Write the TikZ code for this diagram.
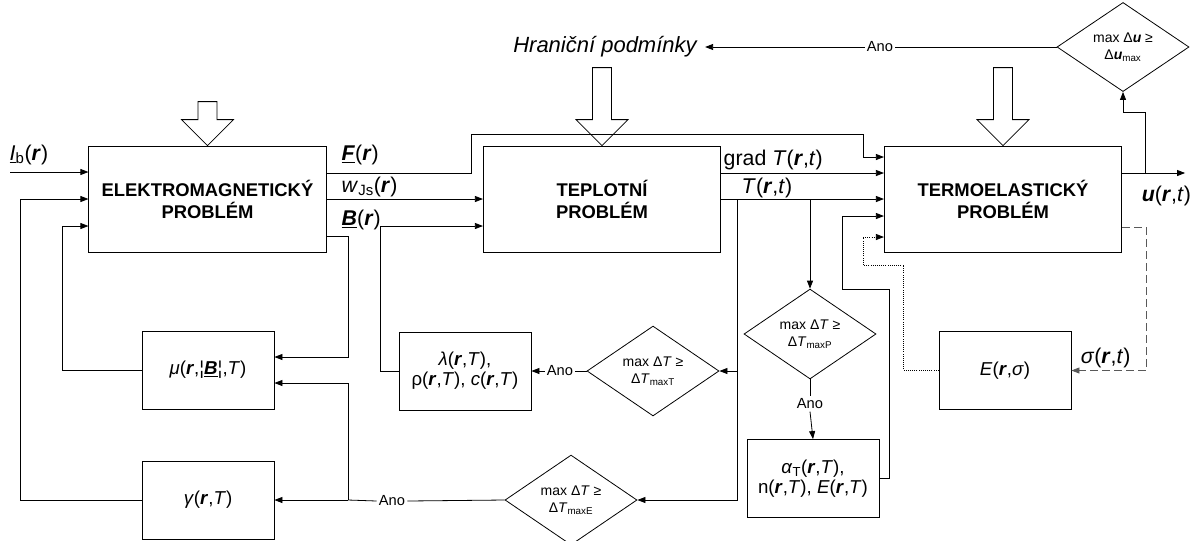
\documentclass[tikz,border=0pt]{standalone}
\usepackage{fontspec}
\setmainfont{Liberation Sans}
\usetikzlibrary{arrows.meta,calc,shapes.geometric}

\newcommand{\vecr}{\textbf{\textit{r}}}
\newcommand{\vecu}{\textbf{\textit{u}}}
\newcommand{\ulB}{\underline{\textbf{\textit{B}}}}
\newcommand{\ulF}{\underline{\textbf{\textit{F}}}}

\tikzset{
  blok/.style={draw, align=center, inner sep=0pt, minimum width=99pt, minimum height=58.5pt, font=\fontsize{14}{15}\selectfont},
  bigblok/.style={blok, minimum width=178pt, minimum height=79.5pt, font=\bfseries\fontsize{13.8}{16.5}\selectfont},
  decide/.style={draw, diamond, align=center, inner sep=0pt, minimum width=99pt, minimum height=58.5pt, font=\fontsize{10.5}{13}\selectfont},
  lab/.style={inner sep=1pt, font=\fontsize{16}{18}\selectfont},
  ano/.style={inner sep=1.5pt, font=\fontsize{11}{13}\selectfont},
  arr/.style={-{Triangle[length=6pt,width=4.5pt]}},
  hollow/.style={fill=white, line join=miter},
}

\begin{document}
\begin{tikzpicture}[x=0.75pt, y=-0.75pt, line width=0.6pt]
    \useasboundingbox (0,0) rectangle (1194,540);

    % main blocks
    \node[bigblok] (em)  at (207.5,199) {ELEKTROMAGNETICKÝ\\PROBLÉM};
    \node[bigblok] (tep) at (602,199)   {TEPLOTNÍ\\PROBLÉM};
    \node[bigblok] (ter) at (1003,199)  {TERMOELASTICKÝ\\PROBLÉM};

    % material blocks
    \node[blok] (mu)   at (208,370)  {\textit{μ}(\vecr,¦\ulB¦,\textit{T})};
    \node[blok] (gam)  at (208,500)  {\textit{γ}(\vecr,\textit{T})};
    \node[blok] (lam)  at (465,371)  {\textit{λ}(\vecr,\textit{T}),\\ρ(\vecr,\textit{T}), \textit{c}(\vecr,\textit{T})};
    \node[blok] (alp)  at (813,478.5) {\textit{α}\textsubscript{T}(\vecr,\textit{T}),\\n(\vecr,\textit{T}), \textit{E}(\vecr,\textit{T})};
    \node[blok] (emod) at (1005,370.5) {\textit{E}(\vecr,\textit{σ})};

    % conditions
    \node[decide, minimum height=60pt] (du) at (1123,47) {max Δ\vecu{} ≥\\Δ\vecu\textsubscript{max}};
    \node[decide] (dT) at (653,371) {max Δ\textit{T} ≥\\Δ\textit{T}\textsubscript{maxT}};
    \node[decide] (dP) at (810,334) {max Δ\textit{T} ≥\\Δ\textit{T}\textsubscript{maxP}};
    \node[decide] (dE) at (571,500) {max Δ\textit{T} ≥\\Δ\textit{T}\textsubscript{maxE}};

    % Ano labels
    \node[ano] (anoU) at (880,47)  {Ano};
    \node[ano] (anoT) at (560,371) {Ano};
    \node[ano] (anoP) at (810,404) {Ano};
    \node[ano] (anoE) at (392,501) {Ano};

    % signal labels
    \node[lab, inner sep=6pt, font=\itshape\fontsize{16.5}{18}\selectfont] (hran) at (605,47) {Hraniční podmínky};
    \node[lab, anchor=west] (lIb)  at (8,155)    {\underline{\textit{I}}\textsubscript{b}(\vecr)};
    \node[lab, anchor=west] (lF)   at (340,155)  {\ulF(\vecr)};
    \node[lab, anchor=west] (lw)   at (340,187)  {\textit{w}\textsubscript{Js}(\vecr)};
    \node[lab, anchor=west] (lB)   at (340,220)  {\ulB(\vecr)};
    \node[lab, anchor=west] (lgr)  at (722,160)  {grad \textit{T}(\vecr,\textit{t})};
    \node[lab, anchor=west] (lT)   at (740,188)  {\textit{T}(\vecr,\textit{t})};
    \node[lab, anchor=west] (lu)   at (1140,196) {\vecu(\vecr,\textit{t})};
    \node[lab, anchor=west] (lsig) at (1079,358) {\textit{σ}(\vecr,\textit{t})};

    % hollow input arrows
    \foreach \b/\len in {em/44, tep/78, ter/78}
        \draw[hollow] ($(\b.north)+(-9.5,-\len)$) -- ++(19,0) -- ++(0,\len-26) -- ++(16.5,0)
            -- (\b.north) -- ++(-26,-26) -- ++(16.5,0) -- cycle;

    % inputs of the EM block
    \coordinate (ibin) at (10,172);
    \draw[arr] (ibin) -- ($(em.west)+(0,-27)$);
    \draw[arr] (gam.west) -- ++(-121,0) |- (em.west);
    \draw[arr] (mu.west) -- ++(-79,0) |- ($(em.west)+(0,27)$);

    % EM -> thermal / elastic
    \draw[arr] ($(em.east)+(0,-26)$) -- (471,173) |- (863,134) |- ($(ter.west)+(0,-42)$);
    \draw[arr] (em.east) -- (tep.west);
    \draw[arr] (lam.west) -- ++(-18,0) |- ($(tep.west)+(0,27)$);
    \draw[arr] ($(em.east)+(0,37)$) -- (348,236) |- ($(mu.east)+(0,-13)$);

    % E branch
    \coordinate (jE) at (348,500);
    \draw (dE.west) -- (anoE.east);
    \draw (anoE.west) -- (jE);
    \draw[arr] (jE) -- (gam.east);
    \draw[arr] (jE) |- ($(mu.east)+(0,13)$);

    % thermal -> elastic
    \draw[arr] ($(tep.east)+(0,-26)$) -- ($(ter.west)+(0,-26)$);
    \draw[arr] (tep.east) -- (ter.west);
    \coordinate (jT) at (737,199);
    \draw[arr] (jT) |- (dE.east);
    \draw[arr] (dT.east -| jT) -- (dT.east);
    \draw[arr] (dP.north |- tep.east) -- (dP.north);

    % T branch
    \draw (dT.west) -- (anoT.east);
    \draw[arr] (anoT.west) -- (lam.east);

    % P branch
    \draw (dP.south) -- (anoP.north);
    \draw[arr] (anoP.south) -- (alp.north);
    \draw[arr] (alp.east) -- ++(10,0) |- (842,289) |- ($(ter.west)+(0,17)$);

    % stress loop
    \draw[arr, densely dotted] (emod.west) -- ++(-35,0) |- (863,265) |- ($(ter.west)+(0,38)$);
    \draw[arr, dashed, dash pattern=on 6pt off 3pt, black!65] ($(ter.east)+(0,28)$) -- ++(24,0) |- (emod.east);

    % displacement output
    \draw[arr] ($(ter.east)+(0,-26)$) -- ++(63,0);
    \draw[arr] ($(ter.east)+(23,-26)$) |- ($(du.south)+(0,20)$) -- (du.south);
    \draw (du.west) -- (anoU.east);
    \draw[arr] (anoU.west) -- (hran.east);
\end{tikzpicture}
\end{document}
